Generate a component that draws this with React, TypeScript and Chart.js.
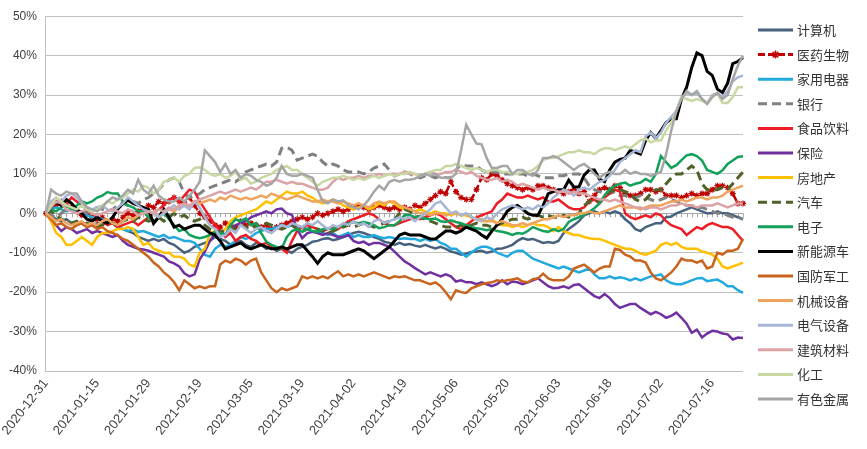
import React, { useEffect, useRef } from 'react';
import { Chart, registerables } from 'chart.js';
Chart.register(...registerables);

const dates: string[] = [
  '2020-12-31',
  '2021-01-04','2021-01-05','2021-01-06','2021-01-07','2021-01-08',
  '2021-01-11','2021-01-12','2021-01-13','2021-01-14','2021-01-15',
  '2021-01-18','2021-01-19','2021-01-20','2021-01-21','2021-01-22',
  '2021-01-25','2021-01-26','2021-01-27','2021-01-28','2021-01-29',
  '2021-02-01','2021-02-02','2021-02-03','2021-02-04','2021-02-05',
  '2021-02-08','2021-02-09','2021-02-10','2021-02-18','2021-02-19',
  '2021-02-22','2021-02-23','2021-02-24','2021-02-25','2021-02-26',
  '2021-03-01','2021-03-02','2021-03-03','2021-03-04','2021-03-05',
  '2021-03-08','2021-03-09','2021-03-10','2021-03-11','2021-03-12',
  '2021-03-15','2021-03-16','2021-03-17','2021-03-18','2021-03-19',
  '2021-03-22','2021-03-23','2021-03-24','2021-03-25','2021-03-26',
  '2021-03-29','2021-03-30','2021-03-31','2021-04-01','2021-04-02',
  '2021-04-06','2021-04-07','2021-04-08','2021-04-09',
  '2021-04-12','2021-04-13','2021-04-14','2021-04-15','2021-04-16',
  '2021-04-19','2021-04-20','2021-04-21','2021-04-22','2021-04-23',
  '2021-04-26','2021-04-27','2021-04-28','2021-04-29','2021-04-30',
  '2021-05-06','2021-05-07',
  '2021-05-10','2021-05-11','2021-05-12','2021-05-13','2021-05-14',
  '2021-05-17','2021-05-18','2021-05-19','2021-05-20','2021-05-21',
  '2021-05-24','2021-05-25','2021-05-26','2021-05-27','2021-05-28',
  '2021-05-31','2021-06-01','2021-06-02','2021-06-03','2021-06-04',
  '2021-06-07','2021-06-08','2021-06-09','2021-06-10','2021-06-11',
  '2021-06-15','2021-06-16','2021-06-17','2021-06-18',
  '2021-06-21','2021-06-22','2021-06-23','2021-06-24','2021-06-25',
  '2021-06-28','2021-06-29','2021-06-30','2021-07-01','2021-07-02',
  '2021-07-05','2021-07-06','2021-07-07','2021-07-08','2021-07-09',
  '2021-07-12','2021-07-13','2021-07-14','2021-07-15','2021-07-16',
  '2021-07-19','2021-07-20','2021-07-21','2021-07-22','2021-07-23',
  '2021-07-26'
];

const seriesNames = ['计算机','医药生物','家用电器','银行','食品饮料','保险','房地产','汽车','电子','新能源车','国防军工','机械设备','电气设备','建筑材料','化工','有色金属'];

const yTickValues = [50, 40, 30, 20, 10, 0, -10, -20, -30, -40];

const jisuanji = [0, -0.5, -1.5, -2, -1.5, -2.5, -3, -2.5, -3.5, -3,
 -2.5, -3, -2, -2.5, -3.5, -4, -4.5, -5, -6, -6.5,
 -7, -6.5, -7, -6.5, -7.5, -8, -9, -10, -9.5, -8.5,
 -8, -7.5, -7, -6, -6.5, -7, -8, -7.5, -7, -8,
 -8.5, -7.5, -8, -9, -8.5, -9.5, -9, -9.5, -10, -9,
 -8.5, -8, -7.2, -7, -6.5, -6.3, -6.8, -6.5, -6, -5.5,
 -5, -4.7, -5, -5.5, -6, -6.5, -7.2, -7.5, -8, -7.5,
 -8, -7.8, -8.2, -8.5, -8, -8.5, -8.9, -8.5, -9, -9.7,
 -10, -10.5, -10.2, -9.8, -9.7, -9.5, -10, -9.7, -9, -8.9,
 -8.5, -8, -7, -6.3, -6.7, -6.5, -7, -7.5, -7.3, -7.5,
 -7, -5, -4, -3, -2, -0.5, 0, 0.5, 0, 0.5,
 0, 0.5, 0, -1.5, -2.5, -4, -4.5, -3.5, -3, -2.5,
 -2.5, -1, -0.8, 0, 0.5, 1, 1.5, 1, 0.5, 0,
 0, 0.5, 0, 0, -0.5, -1, -1.5];

const yiyao = [0, 1, 2, 3, 2, 1.5, 0.5, -0.5, 0, -1,
 -1.5, -1, -2, -1.5, -2, -1, 0, -0.5, 0.5, 1,
 2, 1.5, 3, 2.5, 3, 4, 3, 2.5, 4, 2,
 0, -1, -2, -3, -3.5, -2.5, -3, -3.5, -2, -3,
 -2.5, -3, -3.5, -3, -4, -3.5, -3, -2.5, -2, -1.5,
 -1, -1.5, -1, 0, -0.5, 0, 0.5, 1, 0.5, 1,
 1.5, 2, 1.5, 1, 1.5, 2, 1.5, 1, 1.5, 1,
 1.5, 1, 2, 1.5, 2.5, 3.5, 4.5, 5.5, 5, 8,
 5.5, 4, 3.5, 3.5, 6, 9, 8.5, 10, 9.5, 8.5,
 7.5, 7, 6.5, 6, 6.5, 6, 7, 7, 6.5, 6,
 5.5, 5, 5.5, 6, 5, 5.5, 3, 4.5, 6, 6.5,
 6, 7, 6.5, 5, 4.5, 4.5, 5, 6, 6, 5.5,
 6, 4.5, 4.5, 4.5, 4, 4.5, 5, 4.5, 5, 5,
 6, 7, 7, 6.5, 5, 2.5, 2.5];

const jiayong = [0, 1, 1.5, 1, 0.5, 1, 0, 0.5, -0.5, -1,
 -1, -1.5, -2, -2.5, -3.5, -4, -4.5, -4, -4.7, -4.5,
 -5, -5.5, -6, -5.5, -6.3, -6, -6.5, -7, -7, -7.5,
 -9, -10.5, -11, -9, -8, -8.5, -8, -7, -6, -6.5,
 -6, -5, -4.5, -4, -4, -3.5, -3, -3.5, -3, -4,
 -3.5, -4, -4.5, -5, -5, -5.5, -5, -6, -5.5, -5,
 -6, -5.5, -6, -6, -5.5, -6, -6.3, -6, -6.3, -6.5,
 -6.3, -6.5, -6.5, -7, -6.5, -7, -6.5, -7.5, -8, -9,
 -9, -10, -11, -10, -9, -8.5, -8.5, -9, -10, -10.5,
 -11, -10, -9.5, -9.5, -10.5, -11.5, -12, -12.5, -13, -13.5,
 -14, -13.5, -14, -14.5, -15, -14.5, -14, -15.5, -16.5, -16.5,
 -16, -16.5, -16.2, -16.5, -17, -16.5, -17, -16.5, -16, -15.8,
 -15.5, -17, -17.7, -18, -18, -17.5, -17, -16.5, -16.4, -17.2,
 -17, -16.8, -17.5, -18.5, -18.5, -19.5, -20.2];

const yinhang = [0, -0.5, -1, 0, 1, 1.5, 1, 0.5, 0, 1,
 1.5, 1, 0.5, 1, 2, 2.5, 2, 3, 2.5, 3.5,
 4, 5, 6, 7.5, 8.5, 9, 8, 5, 4, 4.5,
 5, 6, 6.5, 7, 7.5, 8, 8.5, 8, 9, 10.5,
 11, 11.5, 12, 12.5, 12, 13, 16.5, 16.8, 16, 13.5,
 14, 14.5, 15, 14.5, 13, 12, 12.5, 12, 11, 10.5,
 10.5, 10.5, 10, 10.5, 11.5, 12, 12.5, 11, 9.5, 10,
 10.5, 10, 9.5, 9, 9.5, 9.5, 9, 9.5, 9, 9,
 11, 12.5, 12, 12, 12, 11, 10.5, 10.5, 10.5, 10,
 10, 10, 10, 10, 9.5, 10, 9.5, 9, 9, 9,
 9.5, 9.5, 10, 10, 10, 9, 7, 6, 5.5, 5,
 5, 5.5, 4.5, 4.5, 4, 4, 4.5, 4, 3.5, 3,
 3.5, 4, 3.5, 3, 2.5, 2, 2, 1.5, 1.5, 1,
 0.5, 0, 0, -0.5, -1, -1, -1.5];

const shipin = [0, 1.5, 3, 2, 2.5, 4, 3, 2, 1, 0,
 -1, -2, -3, -2.5, -3.5, -3, -2.5, -2, -3, -2,
 -1, 0, 1, 2, 3.5, 4, 3, 4.5, 6, 5.5,
 3, 1, -1, -3, -4.5, -6, -5, -7, -6, -5.5,
 -6.5, -7, -8, -7.5, -8.5, -9, -9, -10, -7, -4.5,
 -3.5, -3, -3.5, -4, -4.5, -4, -3.5, -4, -3, -2,
 -1.5, -1, -0.5, 0, -0.5, -1.5, -2.5, -3, -3, -2.5,
 -2, -1.5, -1, -1.5, -1, -0.5, 0, -0.5, -1.5, -2.5,
 -3.5, -4, -3, -2, -1, -0.5, 0, 0.5, 2.5, 3.5,
 5, 4.5, 4, 4, 4.5, 4, 3.5, 4, 3, 3,
 3.5, 2.5, 1.5, 1, 1, 1.5, 3, 3.5, 2.5, 4,
 5, 6, 5.5, 0, -1, -1.5, -1, -0.5, -1, 0,
 -0.5, -2, -3, -3.5, -4, -5.5, -4.5, -3.5, -4, -3,
 -2.5, -3, -3.5, -3.5, -4, -5.5, -7];

const baoxian = [0, -2, -3, -4.5, -3.5, -4, -5, -4.5, -4, -5,
 -4.5, -5, -5.5, -6, -5.5, -7, -8, -8.5, -9, -9.2,
 -9.5, -10, -10.5, -11, -12.2, -12.7, -13.5, -15.2, -16, -15.5,
 -11.7, -9.7, -7, -5, -4.5, -5.5, -4, -3, -2.5, -2,
 -1, -0.5, 0, 0.5, 0, 1, 1.2, 0, -0.4, -4,
 -6.3, -5, -4.7, -5, -5.5, -5, -5.5, -6, -6, -5.5,
 -7, -7.5, -7.2, -8, -7.5, -7.5, -8, -8.5, -9.7, -11,
 -12.2, -13, -13.9, -14.7, -15.5, -15, -15.5, -16, -15.5, -16,
 -17.3, -17, -17.5, -17.5, -18, -17.5, -18, -18.5, -18, -17,
 -18, -17.3, -17.5, -18, -17.5, -17, -16.5, -17.5, -18.5, -19,
 -18.9, -18.5, -19, -18.2, -18, -19, -20, -21, -21.5, -20.5,
 -21.5, -23, -24, -23.5, -23, -23, -24, -24.8, -25.6, -25,
 -25.6, -26.5, -26, -25.2, -26.5, -28, -30.3, -29.5, -31.5, -30.5,
 -29.8, -30, -30.5, -30.7, -32, -31.5, -31.6];

const fangdichan = [0, -2, -5, -6, -8, -8, -7, -6, -7, -8,
 -6, -5, -5, -4.5, -4, -4, -3.5, -4, -6, -8,
 -7.5, -9, -9.5, -10, -10, -11, -11, -11.5, -13, -13.5,
 -10, -9, -5, -4.5, -5, -4, -2, -1, -0.5, 0,
 0.5, 1, 2, 3, 2.5, 3.5, 4.5, 5.5, 5, 5,
 5.5, 4.5, 4, 3, 2.5, 3, 3.5, 3, 2, 1.5,
 1, 1.5, 2, 1, 1.5, 2.5, 2, 3, 2.5, 1.5,
 1, 1, 0.5, 1, 0.5, 0, 0.5, 0, 0, -0.5,
 0, -0.5, -0.5, -1, -1.5, -2, -2, -1.5, -2.5, -3,
 -3, -3.5, -3, -3.5, -3, -2.5, -3, -3, -3.5, -4.5,
 -3.5, -4.5, -5, -5.5, -5.5, -6, -6.3, -6.5, -6.5, -7,
 -7.5, -8, -8.5, -9, -9, -9.5, -10.2, -10.5, -10, -9.5,
 -8, -7.5, -8, -7.5, -8.5, -9, -9, -9, -9.7, -10,
 -10.5, -11.5, -13.5, -14, -13.5, -13, -12.5];

const qiche = [0, 0.5, -0.5, -1.5, -2, -2.5, -2, -3, -2.5, -3,
 -3.5, -3, -2, -2.5, -3, -2, -1.5, -2, -1, -1.5,
 -2, -1.5, -1, -2, -1, 0, -1, -0.5, -1.5, -2,
 -1.5, -3, -4, -4.5, -5, -4, -3.5, -4, -3, -3.5,
 -4, -3, -3.5, -2.5, -3, -3.5, -4, -3.5, -3, -4,
 -4.5, -4, -3.5, -4, -4.5, -5, -4.5, -4, -3.5, -3,
 -3.5, -3, -2.5, -3, -3.5, -3, -2.5, -2, -1.5, 0,
 1, 0.5, -0.5, -1, -1.5, -2, -2.5, -3, -3.5, -3.5,
 -3.5, -3, -3.5, -3, -2.5, -3, -3, -3.5, -3, -2.5,
 -2, -1.5, -1.5, -1, -1.5, -1, -0.5, -1, -0.5, -1,
 -1, -0.5, -1, -0.5, 0, 2, 3, 3.5, 3, 4,
 5.5, 6, 6, 5.5, 5, 3.5, 3, 3.5, 5, 6,
 6, 7.5, 9, 10, 10, 11, 12, 11, 7.5, 6,
 6, 6, 6.5, 6, 7.5, 9, 10.5];

const dianzi = [0, 1, 0.5, 1.5, 2, 1, 2, 3, 2.5, 3,
 4, 4.5, 5.4, 5, 5, 3, 2, 1.5, 0.5, 0.5,
 -1, -2, -1, 0, -1.5, -3, -4.5, -4, -5.5, -6,
 -6.3, -6, -5.5, -4.7, -5, -5.5, -3, -1.5, -2, -1.3,
 -3, -2.5, -5, -7.2, -8, -8.5, -8.9, -6, -4.5, -4,
 -4.7, -4, -4.5, -4.7, -4, -3.8, -4, -3.5, -3, -2.5,
 -2.2, -2.5, -2.2, -2.5, -3, -3.8, -3.5, -3, -3, -2,
 -0.4, -0.5, -1, -0.8, -1.3, -1.5, -1.3, -2, -2.2, -1.8,
 -2.2, -2.5, -3, -3.5, -3.8, -4, -4.3, -4, -4.5, -4.7,
 -5, -5.5, -5, -5.2, -4.5, -3.5, -4, -4.5, -4.7, -4,
 -4.5, -4, -2.2, -1.5, -1, -0.4, 0.4, 1.3, 2.5, 4.6,
 6.2, 7, 7.5, 7.8, 7, 7.5, 7.8, 8.7, 8, 10,
 14.5, 13, 11.5, 12.2, 13.5, 14.7, 15, 14.5, 13.4, 11,
 10.5, 10, 10.9, 12.5, 13.4, 14.3, 14.5];

const xinnengyuan = [0, 1.5, 3, 2, 3.5, 2.5, 1, 0, -1.5, -2,
 -1, -2, -2.5, -1, 1, 2.5, 3.3, 2.5, 2, 1.5,
 1, -2.6, -1, 1, -1, -3.5, -3, -4, -3.5, -3,
 -3, -4, -5, -5.5, -7, -9, -8.5, -8, -7.5, -8.5,
 -9, -8.5, -8, -8.5, -9, -9, -8.5, -9, -8.5, -8,
 -8, -9.5, -11, -12.7, -11, -10, -10.5, -10.5, -10.5, -10,
 -9.5, -9, -9.5, -10.5, -11.5, -10.5, -9.5, -8.5, -7, -5.5,
 -5, -5.5, -5.5, -5.5, -6, -6.5, -6.5, -5.5, -4.5, -4.5,
 -5, -4.5, -3.5, -4, -4.5, -5.5, -6.3, -4.5, -3, -1.5,
 0.5, 1.5, 2, 1, 0, -0.5, -0.5, 2, 5, 5.5,
 6, 6, 8.4, 6.7, 6.7, 9.7, 11, 11, 8.7, 8,
 11, 13, 13.7, 14, 16, 15.5, 15, 18.5, 20.5, 19,
 21, 23, 24, 24, 29, 32, 37, 40.7, 40, 36,
 35, 31.5, 30.6, 33, 38, 38.5, 39.5];

const guofang = [0, -1.5, -3, -2.5, -3.5, -4, -3, -2.5, -3.5, -3,
 -4, -3.5, -4.5, -5, -5.5, -6.5, -7, -8, -9, -10,
 -11, -12.5, -13.5, -15, -16, -17.5, -19.5, -17, -18, -19,
 -18.5, -19, -18.5, -18.5, -13, -12, -12.5, -11.5, -12, -13,
 -12, -11.5, -15, -17, -19, -20, -19, -19.5, -19, -18.5,
 -16, -16.5, -16, -16.5, -16, -16.5, -15.5, -14.7, -16, -15.5,
 -16, -15.5, -16, -15.5, -15, -15.5, -16, -16.5, -16, -16.2,
 -16, -16.5, -17, -17, -17.5, -18, -17.5, -18.5, -20, -21.8,
 -19.5, -20, -20.2, -19, -18.5, -18, -17.7, -17.5, -17, -17.3,
 -17, -16.8, -16.5, -17.3, -17.5, -16.7, -16.5, -15.3, -16.5, -17,
 -17, -17, -16, -14, -13.5, -13, -14, -15, -14, -13.5,
 -13.5, -9, -9.3, -10.5, -11, -12, -12, -12.5, -15, -16.5,
 -17, -16, -15, -13.5, -11.5, -12, -12, -12.5, -12, -14,
 -13.5, -10, -10.5, -9.5, -9.5, -9, -6.5];

const jixie = [0, -1, -2, -1.5, -2.5, -3, -2.5, -2, -3, -2.5,
 -3, -2, -1.5, -2.5, -3, -2, -1, -1.5, -0.5, 0,
 0.5, 0, -1, 0, 1, 0.5, 1.5, 2, 1.5, 3,
 2.5, 3, 3.5, 3, 4, 3.5, 4.5, 4, 3.5, 4,
 3.5, 4, 4.5, 4, 5, 4.5, 4, 3.5, 4, 4.5,
 4, 3.5, 3, 3, 3.5, 3, 3, 2.5, 3, 2.5,
 2, 2.5, 2, 1.5, 2.5, 3, 2.5, 3, 3, 2,
 1.5, 1, 0.5, 0, 0, -0.5, 0, 0, -0.5, 0,
 0, -0.5, 0, -1, -1.5, -1.5, -2, -2, -2.5, -2,
 -2.5, -3, -3, -2.5, -3, -2.5, -2, -1.5, -1.5, -1,
 -0.5, -1, -0.5, -0.5, 0, 0, 0.5, 0, 0, 0.5,
 1, 1.5, 2, 1.5, 1.5, 1.5, 1, 1.5, 2, 2,
 2, 2.5, 3, 3, 3.5, 3, 3.5, 4, 4, 3.5,
 4, 4, 4.5, 5.5, 6, 6.5, 7];

const dianqi = [0, 3, 4, 3, 4.5, 5, 4, 2.5, 1.5, 1,
 1.5, 2, 1, 0.5, 1.5, 2.5, 4, 3, 2, 1,
 0.5, 0, -1, 0, 1, 2, 1, 2, 1, 3,
 1.5, -1, -3, -4, -6, -5.5, -4, -5, -3, -4,
 -5, -4, -3.5, -4.5, -5, -4, -3, -3.5, -2.5, -3,
 -3.5, -2.5, -3, -2, -3, -4, -3, -3.5, -2.5, -3,
 -2, -3, -2.5, -3.5, -2, -1.5, -2.5, -2, -1.5, -1,
 -1.5, -1, -2, -1, 0, 1, 2.5, 3, 1.5, 0,
 0.5, -0.5, 0, -1, -1.5, -2, -1, -1.5, 0, 1,
 1.5, 2, 1.5, 1, 1.5, 1, 2, 1.5, 2.5, 4,
 5, 6, 5.5, 4.5, 6, 6.5, 6, 7, 8, 8.5,
 9.5, 11, 13, 14, 15, 16, 15.5, 19.5, 20.5, 19,
 20.5, 23, 24.5, 26, 29.5, 30.5, 30, 30.5, 29, 28,
 30, 30.5, 29.5, 31, 33.5, 34.5, 35];

const jiancai = [0, 1.5, 3, 2.5, 1, 0.5, 0, 0.5, 1, 0,
 -0.5, 0, 0.5, 1, 0.5, 0, 1, 0.5, -0.5, 0,
 0.5, 0, 1, 0.5, 1.5, 1, 2, 2.5, 2, 3,
 3.5, 4, 4.5, 5, 5.5, 5, 5.5, 6, 5.5, 6,
 6.5, 6, 7, 8, 8, 8.5, 8, 7.5, 8, 7.5,
 7.5, 7, 6.5, 6, 6, 6.5, 8, 9, 8.5, 9,
 9, 9.5, 9, 9.5, 9.5, 10, 9.5, 10, 10, 10,
 10.5, 10, 10, 9.5, 10, 10.5, 10, 10, 10.5, 10.5,
 11, 10.5, 10, 10.5, 9.5, 9, 8.5, 8.5, 9, 8,
 8.5, 8, 7, 7.5, 7, 6.5, 6, 6.5, 6, 6,
 5.5, 5.5, 5, 5.5, 5, 5, 4.5, 4, 3.5, 3.5,
 3, 3.5, 3, 2.5, 2, 1.5, 1.5, 1, 1.5, 1.5,
 1, 1.5, 2, 2, 2.5, 2, 2, 1.5, 2, 2,
 2, 2.5, 2, 1.5, 2, 2.5, 2.5];

const huagong = [0, 2, 4, 3, 2, 1.5, 1, 2, 1, 0.5,
 1, 2, 3, 2.5, 3.5, 4, 5, 6, 5.5, 7,
 6.5, 5, 6, 8, 8.5, 9, 8, 9.5, 10, 11.5,
 11.7, 11, 10, 9.5, 10, 9, 9.5, 10.5, 8.5, 9,
 7.5, 8, 9, 9.5, 10, 11, 11.5, 12, 11, 11,
 10, 9, 8, 7, 8, 8.5, 9, 9, 9.5, 9,
 8.5, 9, 8.5, 9, 9.5, 9, 9.5, 10, 9.5, 10,
 10, 10.5, 10, 9.5, 10, 10.5, 11, 11, 12, 12,
 12.5, 12, 11.5, 11, 11.5, 11, 10.5, 11, 11, 10.5,
 10.5, 10, 10, 10.5, 10.5, 11, 12, 13.5, 14, 14,
 14.5, 15, 15.5, 15.5, 16, 15.5, 15.5, 15, 16, 16.5,
 16.5, 16, 16.5, 17, 16.5, 17.5, 18.5, 19, 18, 18.5,
 18.5, 21, 23, 26, 29.5, 29, 28.5, 29, 28.5, 28,
 29.5, 30.5, 28, 28, 29.5, 32, 32];

const youse = [0, 6, 5, 4.5, 5.5, 5, 5, 3, 1.5, 1,
 0.5, 1.5, 3, 4, 3.5, 4.5, 6, 5, 8.5, 6,
 5, 7, 4.5, 3.5, 3, 3, 4, 3, 4.5, 6,
 8, 16, 14.5, 13, 10.5, 12.5, 10, 11, 9, 10,
 9.5, 8.5, 8, 7, 7.5, 9, 12, 10, 9.5, 9.5,
 10, 9.5, 9, 6, 3, 2.5, 3.5, 3, 3.3, 2,
 1.5, 1, 2, 3.5, 5.5, 7, 6, 8, 8.5, 8,
 8.5, 8.5, 8.8, 9.5, 10, 9.5, 10, 9, 9, 9,
 10, 16, 22.5, 20, 17.7, 17.5, 14, 11.5, 11.5, 12,
 12, 10, 11, 11, 10, 9.5, 11, 14, 14, 14.5,
 14, 13, 12, 11, 12, 12.5, 11.5, 10, 9, 10,
 10.5, 10, 10, 11, 10, 10.5, 10, 10, 9.5, 10,
 10.5, 15, 21, 26, 29, 31, 30, 31, 29, 27.7,
 29.5, 30.5, 29, 30, 34, 37.5, 40];

const seriesValues = [jisuanji, yiyao, jiayong, yinhang, shipin, baoxian, fangdichan, qiche, dianzi, xinnengyuan, guofang, jixie, dianqi, jiancai, huagong, youse];

const colors = ['#46627F', '#C00000', '#22A9DE', '#808080', '#EE1C24', '#7030A0', '#FFC000', '#4F6228', '#12A15A', '#000000', '#C8641E', '#EEA35E', '#A8B6D6', '#DBA3A5', '#C7D8A2', '#A6A6A6'];
const dashes: number[][] = [[], [7, 3], [], [9, 5], [], [], [], [9, 5], [], [], [], [], [], [], [], []];
const widths = [2.5, 2.5, 2.5, 3, 2.5, 2.5, 2.5, 3, 2.5, 3, 2.5, 2.5, 2.5, 2.5, 2.5, 2.5];

const FONT = '"Liberation Sans", Arial, sans-serif';

const zeroTicksPlugin = {
  id: 'zeroTicks',
  beforeDatasetsDraw(chart: any) {
    const xs = chart.scales.x;
    const ys = chart.scales.y;
    const y0 = ys.getPixelForValue(0);
    const ctx = chart.ctx;
    ctx.save();
    ctx.strokeStyle = '#A6A6A6';
    ctx.lineWidth = 1;
    ctx.beginPath();
    ctx.moveTo(chart.chartArea.left, Math.round(y0) + 0.5);
    ctx.lineTo(chart.chartArea.right, Math.round(y0) + 0.5);
    for (let i = 0; i < dates.length; i++) {
      const x = Math.round(xs.getPixelForValue(i)) + 0.5;
      ctx.moveTo(x, y0);
      ctx.lineTo(x, y0 + 4);
    }
    ctx.stroke();
    ctx.restore();
  },
};

const legendPlugin = {
  id: 'sideLegend',
  afterDraw(chart: any) {
    const ctx = chart.ctx;
    const x0 = 758, x1 = 793, tx = 797;
    chart.data.datasets.forEach((ds: any, i: number) => {
      const y = 30 + i * 24.6;
      ctx.save();
      ctx.strokeStyle = ds.borderColor;
      ctx.lineWidth = 3;
      ctx.setLineDash(ds.borderDash || []);
      ctx.beginPath();
      ctx.moveTo(x0, y);
      ctx.lineTo(x1, y);
      ctx.stroke();
      ctx.setLineDash([]);
      if (ds.pointStyle === 'star') {
        const cx = (x0 + x1) / 2;
        ctx.lineWidth = 1.5;
        ctx.beginPath();
        for (let k = 0; k < 4; k++) {
          const a = (k * Math.PI) / 4;
          ctx.moveTo(cx - 4 * Math.cos(a), y - 4 * Math.sin(a));
          ctx.lineTo(cx + 4 * Math.cos(a), y + 4 * Math.sin(a));
        }
        ctx.stroke();
      }
      ctx.fillStyle = '#333333';
      ctx.font = '13px "Noto Sans CJK SC", sans-serif';
      ctx.textBaseline = 'middle';
      ctx.textAlign = 'left';
      ctx.fillText(ds.label, tx, y);
      ctx.restore();
    });
  },
};

export default function App() {
  const ref = useRef<HTMLCanvasElement>(null);
  useEffect(() => {
    const datasets = seriesNames.map((name, i) => ({
      label: name,
      data: seriesValues[i],
      borderColor: colors[i],
      backgroundColor: colors[i],
      borderWidth: widths[i],
      borderDash: dashes[i],
      pointRadius: i === 1 ? 3 : 0,
      pointStyle: i === 1 ? 'star' : 'circle',
      pointBorderColor: colors[i],
      pointBorderWidth: 1.2,
      tension: 0,
      fill: false,
      order: 16 - i,
    }));
    const chart = new Chart(ref.current as HTMLCanvasElement, {
      type: 'line',
      data: { labels: dates, datasets },
      options: {
        animation: false,
        responsive: false,
        maintainAspectRatio: false,
        events: [],
        layout: { padding: { top: 13, right: 124, left: 0, bottom: 0 } },
        plugins: { legend: { display: false }, tooltip: { enabled: false } },
        scales: {
          x: {
            type: 'category',
            grid: { display: false, drawTicks: false },
            border: { display: false },
            afterFit: (s: any) => { s.height = 78; },
            ticks: {
              autoSkip: false,
              maxRotation: 52,
              minRotation: 52,
              padding: 5,
              color: '#404040',
              font: { family: FONT, size: 13 },
              callback: (_v: any, idx: number) => (idx % 10 === 0 ? dates[idx] : ''),
            },
          },
          y: {
            min: -40,
            max: 50,
            afterFit: (s: any) => { s.width = 45; },
            afterBuildTicks: (s: any) => { s.ticks = yTickValues.map((v) => ({ value: v })); },
            grid: { color: '#BFBFBF', lineWidth: 1, drawTicks: false },
            border: { display: true, color: '#BFBFBF' },
            ticks: {
              padding: 9,
              color: '#404040',
              font: { family: FONT, size: 12 },
              callback: (v: any) => `${v}%`,
            },
          },
        },
      },
      plugins: [zeroTicksPlugin, legendPlugin],
    } as any);
    return () => chart.destroy();
  }, []);
  return (
    <div style={{ position: 'absolute', left: 0, top: 0, width: 867, height: 449, background: '#ffffff' }}>
      <canvas ref={ref} width={867} height={449} style={{ display: 'block' }} />
    </div>
  );
}
